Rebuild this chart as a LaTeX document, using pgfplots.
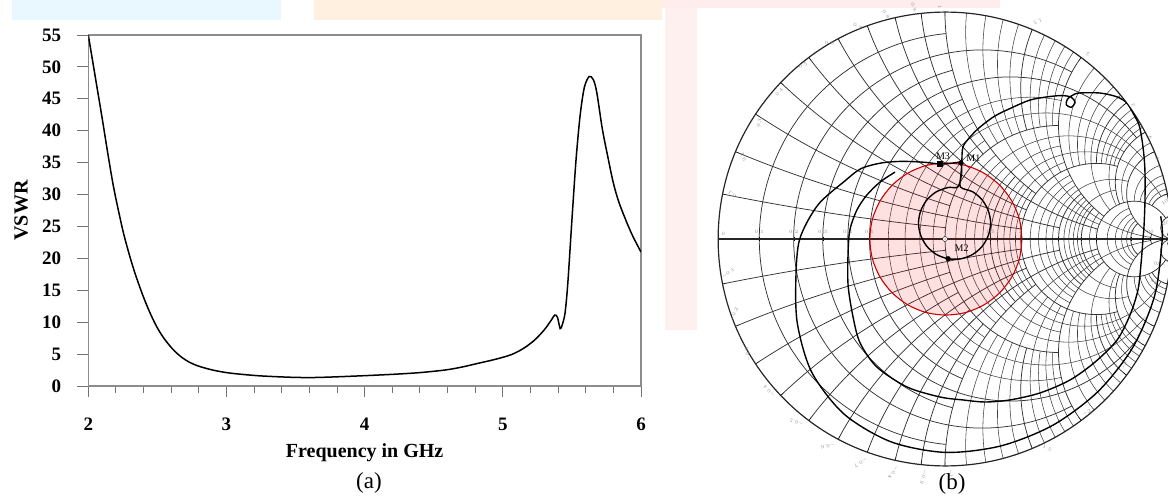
\documentclass[border=0pt]{standalone}
\usepackage{fontspec}
\setmainfont{Liberation Serif}
\usepackage{pgfplots}
\pgfplotsset{compat=1.18}
\usepgfplotslibrary{smithchart}

\begin{document}
\begin{tikzpicture}
% faint background (watermark colours of the scanned page)
\fill[cyan!9] (12pt,0pt) rectangle (281pt,-20pt);
\fill[orange!12] (314pt,0pt) rectangle (662pt,-20pt);
\fill[red!7] (662pt,0pt) rectangle (1000pt,-8pt);
\fill[red!6] (665pt,-8pt) rectangle (697pt,-330pt);

\begin{axis}[
  at={(88.3pt,-386pt)}, anchor=south west,
  width=552.7pt, height=351pt, scale only axis,
  xmin=2, xmax=6, ymin=0, ymax=55,
  xtick={2,3,4,5,6}, minor x tick num=4,
  ytick={0,5,...,55},
  xtick pos=left, ytick pos=left,
  tick align=outside,
  major tick length=11pt, minor tick length=7pt,
  axis line style={black!45, line width=1.1pt},
  tick style={black!55, line width=1pt},
  /pgf/number format/assume math mode=true,
  ticklabel style={font=\fontsize{19}{22}\selectfont\bfseries},
  yticklabel style={anchor=east, inner sep=0pt, xshift=-16pt},
  xticklabel style={anchor=north, inner sep=0pt, yshift=-21pt},
  xlabel={Frequency in GHz}, ylabel={VSWR},
  label style={font=\fontsize{20}{24}\selectfont\bfseries},
  xlabel style={at={(axis description cs:0.5,-0.205)}, anchor=base},
  ylabel style={at={(axis description cs:-0.1098,0.5)}, anchor=base},
]
\addplot[black, line width=1.5pt, smooth, tension=0.5] coordinates {
(2.00,55.0) (2.05,48.5) (2.10,42.0) (2.14,36.6) (2.18,31.5) (2.22,27.3)
(2.26,23.5) (2.31,19.6) (2.35,16.9) (2.40,13.9) (2.45,11.3) (2.50,9.1)
(2.55,7.4) (2.61,5.8) (2.67,4.6) (2.73,3.75) (2.80,3.1) (2.90,2.5)
(3.00,2.1) (3.10,1.85) (3.25,1.58) (3.45,1.38) (3.60,1.32) (3.75,1.4)
(4.00,1.62) (4.22,1.85) (4.40,2.1) (4.58,2.5) (4.70,2.95) (4.82,3.55)
(4.94,4.15) (5.06,4.9) (5.15,5.9) (5.23,7.2) (5.30,8.8) (5.35,10.3)
(5.375,11.1) (5.395,10.8) (5.415,9.0) (5.43,9.6) (5.45,11.4) (5.47,16.0)
(5.50,26.0) (5.53,35.5) (5.56,42.5) (5.59,46.8) (5.625,48.5) (5.655,48.0)
(5.68,46.0) (5.72,40.3) (5.76,35.9) (5.80,31.8) (5.84,28.8) (5.89,26.0)
(5.94,23.5) (6.00,21.0)
};
\end{axis}

\begin{smithchart}[
  at={(945pt,-239pt)}, anchor=center,
  width=454pt, scale only axis,
  many smithchart ticks,
  yticklabel in circle,
  major grid style={black!80, line width=0.75pt},
  minor grid style={black!75, line width=0.55pt},
  axis line style={black!85, line width=1.2pt},
  ticklabel style={font=\fontsize{4.5}{5}\selectfont, black!45},
]
% VSWR = 2 circle
\addplot[is smithchart cs, smooth, red!80!black, line width=1.1pt, fill=red, fill opacity=0.12] coordinates {
(0.339,0) (0.328,0.087) (0.294,0.168) (0.241,0.237) (0.172,0.290) (0.091,0.324)
(0.004,0.335) (-0.083,0.324) (-0.164,0.290) (-0.233,0.237) (-0.286,0.168) (-0.320,0.087)
(-0.331,0) (-0.320,-0.087) (-0.286,-0.168) (-0.233,-0.237) (-0.164,-0.290) (-0.083,-0.324)
(0.004,-0.335) (0.091,-0.324) (0.172,-0.290) (0.241,-0.237) (0.294,-0.168) (0.328,-0.087)
(0.339,0)
};
% S11 trace 2--6 GHz
\addplot[is smithchart cs, smooth, tension=0.5, black, line width=1.4pt] coordinates {
(0.950,0.100) (0.957,0.000) (0.924,-0.248) (0.827,-0.478) (0.673,-0.673)
(0.474,-0.821) (0.244,-0.912) (0.000,-0.940) (-0.239,-0.893) (-0.445,-0.771)
(-0.587,-0.587) (-0.650,-0.375) (-0.657,-0.176) (-0.640,0.000) (-0.560,0.150)
(-0.442,0.255) (-0.370,0.310) (-0.280,0.335) (-0.190,0.342) (-0.090,0.338)
(-0.022,0.330) (0.022,0.333) (0.070,0.335) (0.070,0.282)
(0.068,0.229) (0.122,0.208) (0.164,0.172) (0.191,0.124) (0.201,0.070)
(0.191,0.016) (0.164,-0.032) (0.122,-0.068) (0.070,-0.087) (0.014,-0.087)
(-0.038,-0.068) (-0.080,-0.032) (-0.107,0.016) (-0.117,0.070) (-0.107,0.124)
(-0.080,0.172) (-0.038,0.208) (0.014,0.227) (0.056,0.229) (0.072,0.280)
(0.074,0.335) (0.079,0.405) (0.110,0.449) (0.154,0.493) (0.220,0.542)
(0.300,0.581) (0.374,0.612) (0.449,0.626) (0.515,0.632) (0.555,0.625)
(0.573,0.603) (0.556,0.580) (0.534,0.592) (0.540,0.617) (0.560,0.632)
(0.590,0.643) (0.683,0.643) (0.758,0.626) (0.802,0.599) (0.828,0.555)
(0.855,0.502) (0.868,0.436) (0.877,0.361) (0.881,0.291) (0.881,0.172)
(0.877,0.062) (0.872,-0.004) (0.863,-0.115) (0.850,-0.225) (0.815,-0.335)
(0.758,-0.445) (0.661,-0.542) (0.551,-0.621) (0.419,-0.678) (0.286,-0.709)
(0.176,-0.718) (0.079,-0.709) (-0.022,-0.696) (-0.167,-0.652) (-0.300,-0.564)
(-0.374,-0.458) (-0.405,-0.344) (-0.427,-0.203) (-0.427,-0.062) (-0.419,0.040)
(-0.388,0.128) (-0.344,0.194) (-0.286,0.251) (-0.220,0.295)
};
% markers
\addplot[is smithchart cs, only marks, mark=square*, mark size=2.4pt, black,
  nodes near coords={M3}, every node near coord/.style={font=\fontsize{10}{12}\selectfont, anchor=south, xshift=3pt, yshift=1pt}]
  coordinates {(-0.022,0.330)};
\addplot[is smithchart cs, only marks, mark=*, mark size=2.4pt, black,
  nodes near coords={M1}, every node near coord/.style={font=\fontsize{10}{12}\selectfont, anchor=south west, xshift=2pt, yshift=-2pt}]
  coordinates {(0.070,0.335)};
\addplot[is smithchart cs, only marks, mark=*, mark size=2.4pt, black,
  nodes near coords={M2}, every node near coord/.style={font=\fontsize{10}{12}\selectfont, anchor=south west, xshift=3pt, yshift=4pt}]
  coordinates {(0.014,-0.087)};
\end{smithchart}

\node[font=\fontsize{23}{27}\selectfont] at (369pt,-483pt) {(a)};
\node[font=\fontsize{23}{27}\selectfont] at (952pt,-484pt) {(b)};

\pgfresetboundingbox
\useasboundingbox (0pt,0pt) rectangle (1168pt,-497pt);
\end{tikzpicture}
\end{document}
